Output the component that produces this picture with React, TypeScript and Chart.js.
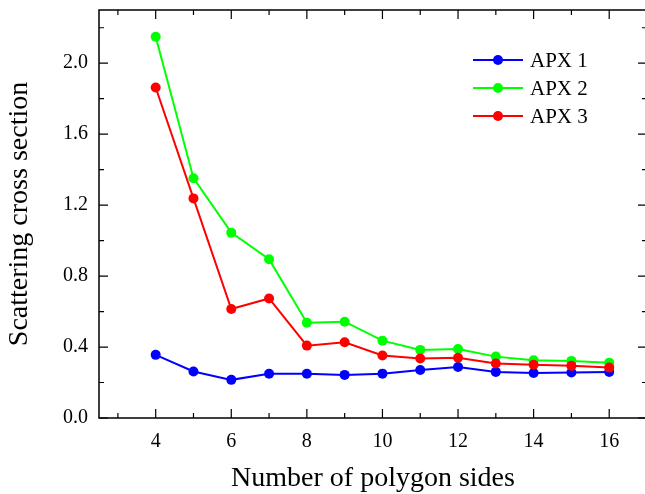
import React, { useEffect, useRef } from "react";
import { Chart, registerables } from "chart.js";

Chart.register(...registerables);

const sides = [4, 5, 6, 7, 8, 9, 10, 11, 12, 13, 14, 15, 16];
const apx1 = [0.356, 0.262, 0.215, 0.249, 0.249, 0.243, 0.25, 0.271, 0.288, 0.26, 0.254, 0.256, 0.26];
const apx2 = [2.149, 1.352, 1.045, 0.895, 0.537, 0.543, 0.436, 0.384, 0.389, 0.346, 0.326, 0.322, 0.312];
const apx3 = [1.863, 1.238, 0.614, 0.674, 0.408, 0.427, 0.352, 0.335, 0.34, 0.307, 0.3, 0.294, 0.284];
const seriesNames = ["APX 1", "APX 2", "APX 3"];
const seriesColors = ["#0000ff", "#00ff00", "#ff0000"];
const xMajorTicks = [4, 6, 8, 10, 12, 14, 16];
const xMinorTicks = [3, 5, 7, 9, 11, 13, 15, 17];
const yMajorTicks = [0, 0.4, 0.8, 1.2, 1.6, 2.0];
const yMinorTicks = [0.2, 0.6, 1.0, 1.4, 1.8, 2.2];

const FONT = "'Liberation Serif', 'Times New Roman', serif";

const framePlugin = {
  id: "frame",
  afterDraw(chart: any) {
    const ctx = chart.ctx;
    const { left, right, top, bottom } = chart.chartArea;
    const xs = chart.scales.x;
    const ys = chart.scales.y;
    ctx.save();
    ctx.strokeStyle = "#000";
    ctx.lineWidth = 1.5;
    ctx.beginPath();
    ctx.rect(left, top, right - left, bottom - top);
    ctx.stroke();
    ctx.lineWidth = 1.2;
    const major = 9;
    const minor = 5;
    ctx.beginPath();
    const xt = (v: number, len: number) => {
      const p = xs.getPixelForValue(v);
      ctx.moveTo(p, bottom);
      ctx.lineTo(p, bottom - len);
      ctx.moveTo(p, top);
      ctx.lineTo(p, top + len);
    };
    const yt = (v: number, len: number) => {
      const p = ys.getPixelForValue(v);
      ctx.moveTo(left, p);
      ctx.lineTo(left + len, p);
      ctx.moveTo(right, p);
      ctx.lineTo(right - len, p);
    };
    xMajorTicks.forEach((v) => xt(v, major));
    xMinorTicks.forEach((v) => xt(v, minor));
    yMajorTicks.forEach((v) => yt(v, major));
    yMinorTicks.forEach((v) => yt(v, minor));
    ctx.stroke();

    // legend
    const rows = [60, 88, 116];
    ctx.font = `21px ${FONT}`;
    ctx.textBaseline = "middle";
    ctx.textAlign = "left";
    seriesNames.forEach((name, i) => {
      const y = rows[i];
      ctx.strokeStyle = seriesColors[i];
      ctx.lineWidth = 2;
      ctx.beginPath();
      ctx.moveTo(473, y);
      ctx.lineTo(523, y);
      ctx.stroke();
      ctx.fillStyle = seriesColors[i];
      ctx.beginPath();
      ctx.arc(498, y, 5, 0, Math.PI * 2);
      ctx.fill();
      ctx.fillStyle = "#000";
      ctx.fillText(name, 530, y + 1);
    });
    ctx.restore();
  },
};

const zeroPad = (s: any) => {
  s.paddingTop = 0;
  s.paddingBottom = 0;
  s.paddingLeft = 0;
  s.paddingRight = 0;
};

export default function App() {
  const ref = useRef<HTMLCanvasElement | null>(null);
  useEffect(() => {
    if (!ref.current) return;
    const values = [apx1, apx2, apx3];
    const chart = new Chart(ref.current, {
      type: "line",
      data: {
        datasets: values.map((vals, i) => ({
          label: seriesNames[i],
          data: sides.map((s, j) => ({ x: s, y: vals[j] })),
          borderColor: seriesColors[i],
          backgroundColor: seriesColors[i],
          borderWidth: 2,
          pointRadius: 5,
          pointBorderWidth: 0,
          pointBackgroundColor: seriesColors[i],
          tension: 0,
          order: 3 - i,
        })),
      },
      options: {
        responsive: false,
        animation: false,
        events: [],
        layout: { padding: { top: 10, right: 3, left: 0, bottom: 0 } },
        plugins: { legend: { display: false }, tooltip: { enabled: false } },
        scales: {
          x: {
            type: "linear",
            min: 2.5,
            max: 17,
            grid: { display: false, drawTicks: false },
            border: { display: false },
            afterBuildTicks: (s: any) => {
              s.ticks = xMajorTicks.map((v) => ({ value: v }));
            },
            afterFit: (s: any) => {
              s.height = 76;
              zeroPad(s);
            },
            ticks: {
              color: "#000",
              font: { family: FONT, size: 20 },
              padding: 12,
              maxRotation: 0,
              callback: (v: any) => String(v),
            },
            title: {
              display: true,
              text: "Number of polygon sides",
              color: "#000",
              font: { family: FONT, size: 28 },
              padding: { top: 0, bottom: -1 },
            },
          },
          y: {
            type: "linear",
            min: 0,
            max: 2.3,
            grid: { display: false, drawTicks: false },
            border: { display: false },
            afterBuildTicks: (s: any) => {
              s.ticks = yMajorTicks.map((v) => ({ value: v }));
            },
            afterFit: (s: any) => {
              s.width = 99;
              zeroPad(s);
            },
            ticks: {
              color: "#000",
              font: { family: FONT, size: 20 },
              padding: 11,
              callback: (v: any) => Number(v).toFixed(1),
            },
            title: {
              display: true,
              text: "Scattering cross section",
              color: "#000",
              font: { family: FONT, size: 28 },
              padding: { top: 3, bottom: 0 },
            },
          },
        },
      },
      plugins: [framePlugin],
    });
    return () => chart.destroy();
  }, []);
  return (
    <div style={{ position: "fixed", left: 0, top: 0, width: 645, height: 494, overflow: "hidden", background: "#fff" }}>
      <canvas ref={ref} width={652} height={494} style={{ display: "block", width: 652, height: 494 }} />
    </div>
  );
}
